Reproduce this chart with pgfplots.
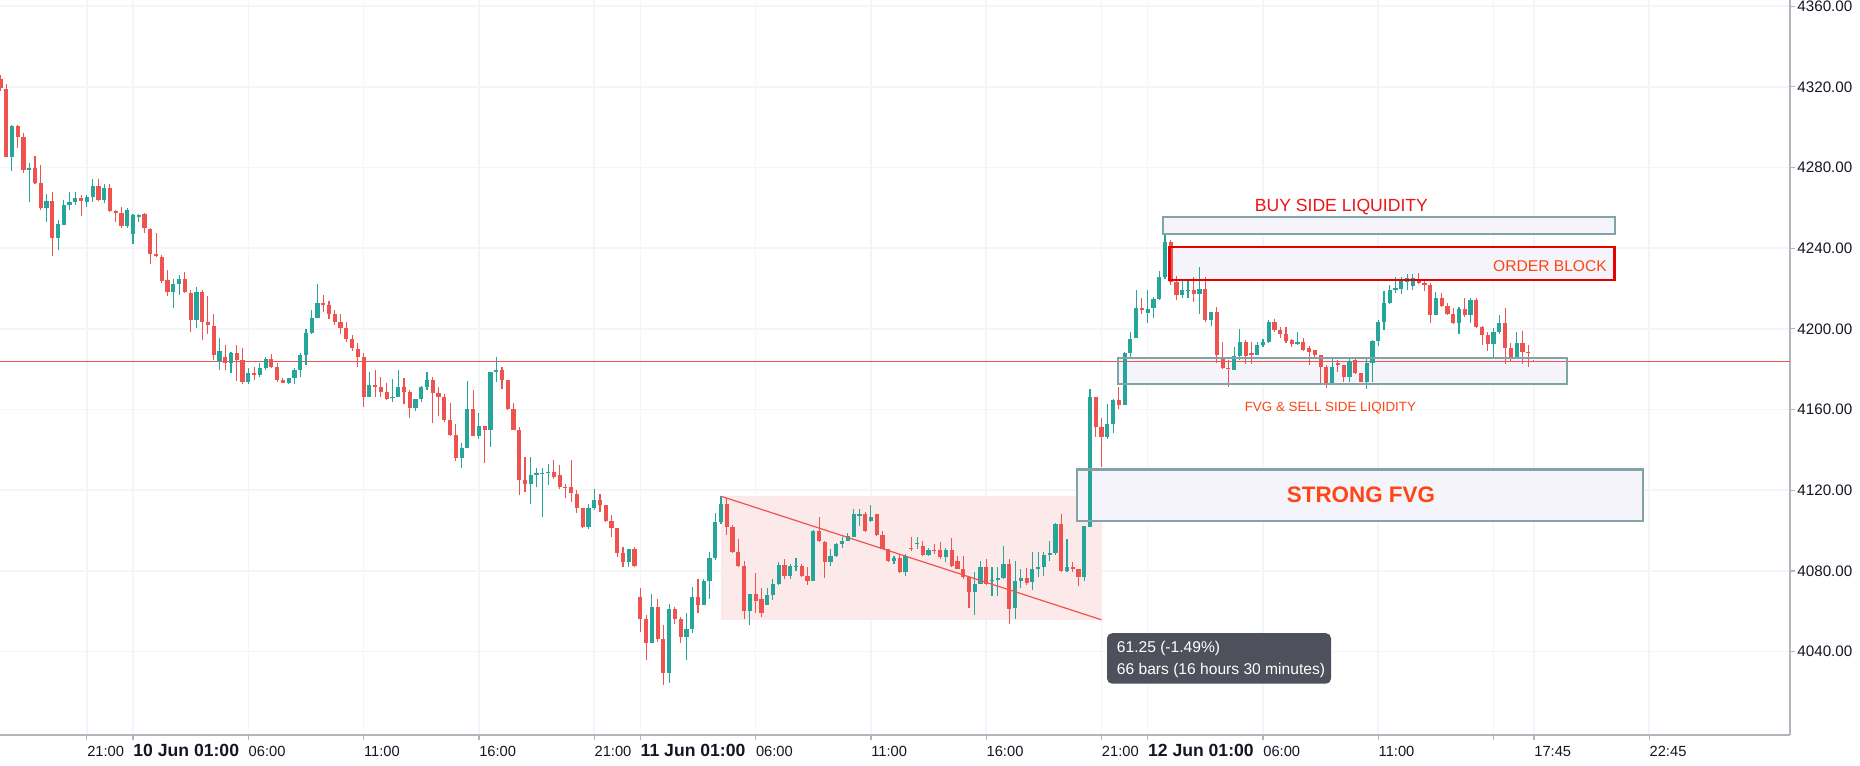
\documentclass[border=0pt]{standalone}
\usepackage{fontspec}
\setmainfont{Liberation Sans}
\usepackage{pgfplots}
\pgfplotsset{compat=1.18}
\usepackage{pgfplotstable}

\definecolor{upc}{RGB}{38,166,154}
\definecolor{dnc}{RGB}{239,83,80}
\definecolor{gridc}{RGB}{244,245,249}
\definecolor{axc}{RGB}{178,181,190}
\definecolor{txtc}{RGB}{19,23,34}
\definecolor{boxfill}{RGB}{244,244,250}
\definecolor{boxline}{RGB}{130,163,168}
\definecolor{pinkc}{RGB}{252,233,233}
\definecolor{obred}{RGB}{230,0,0}
\definecolor{buyred}{RGB}{235,20,20}
\definecolor{orred}{RGB}{255,69,20}
\definecolor{measc}{RGB}{78,81,92}

\pgfplotstableread{
i o h l c
-21 4285.3 4301.0 4278.3 4300.7
-18 4278.7 4282.0 4263.0 4279.8
-15 4260.0 4266.8 4253.0 4263.5
-13 4245.1 4253.9 4239.0 4252.2
-12 4251.7 4264.1 4251.4 4261.6
-11 4261.3 4268.0 4258.8 4263.0
-10 4263.0 4268.0 4261.3 4265.0
-8 4263.0 4266.6 4260.2 4265.5
-7 4265.5 4274.2 4263.0 4270.9
-5 4264.1 4271.7 4262.5 4269.8
-1 4251.1 4259.7 4250.1 4258.8
0 4246.9 4256.9 4242.0 4256.4
1 4255.5 4256.9 4253.0 4256.4
7 4218.3 4224.5 4210.4 4222.1
8 4222.1 4226.6 4216.7 4224.9
11 4204.3 4220.8 4200.2 4218.3
15 4184.0 4195.4 4179.8 4188.8
17 4183.0 4188.5 4178.1 4188.0
20 4173.8 4180.4 4172.9 4177.9
22 4177.1 4182.9 4176.2 4180.4
23 4180.4 4186.2 4179.5 4185.0
27 4173.4 4175.7 4172.9 4175.4
28 4175.4 4180.4 4172.9 4179.6
29 4179.6 4187.8 4176.2 4187.0
30 4187.0 4199.7 4182.0 4198.1
31 4198.1 4209.3 4197.7 4205.2
32 4205.5 4222.0 4205.2 4212.9
41 4166.3 4178.7 4166.3 4172.1
45 4165.5 4174.9 4163.8 4166.3
46 4166.3 4179.6 4166.3 4171.3
49 4160.9 4165.0 4159.4 4165.0
50 4165.0 4171.8 4163.8 4171.3
51 4171.3 4178.7 4169.6 4174.6
57 4136.1 4143.5 4131.2 4141.1
58 4141.1 4174.0 4141.1 4160.5
60 4146.8 4158.3 4145.2 4151.8
62 4150.0 4178.7 4141.5 4178.7
63 4178.7 4186.1 4173.7 4179.5
69 4123.3 4136.6 4113.4 4127.5
70 4127.5 4131.1 4121.7 4128.6
71 4128.0 4131.1 4106.8 4128.6
72 4128.3 4132.8 4122.5 4129.1
79 4101.9 4113.0 4100.7 4111.0
80 4111.0 4120.4 4110.1 4115.4
86 4084.5 4091.1 4082.0 4091.1
90 4044.3 4068.8 4044.3 4062.2
93 4029.5 4063.8 4024.5 4060.9
96 4047.0 4058.9 4035.7 4051.4
97 4051.4 4072.1 4049.3 4067.2
99 4063.0 4076.2 4063.0 4075.1
100 4075.1 4089.5 4066.3 4086.2
101 4086.2 4108.8 4085.4 4104.3
102 4104.3 4117.0 4103.5 4113.4
107 4060.0 4068.7 4053.1 4068.7
110 4063.3 4071.5 4063.0 4067.9
111 4067.9 4076.1 4065.4 4073.6
112 4073.6 4084.6 4072.8 4083.1
114 4077.4 4083.4 4076.1 4082.6
115 4082.1 4086.4 4080.2 4082.6
118 4075.2 4100.3 4074.8 4099.8
121 4084.6 4090.8 4082.3 4087.2
122 4087.2 4093.8 4086.7 4093.3
123 4093.3 4096.6 4091.6 4094.9
124 4094.9 4098.7 4094.9 4097.4
125 4097.0 4110.5 4097.0 4108.0
126 4107.4 4110.5 4102.3 4108.0
128 4104.8 4112.5 4104.3 4106.7
132 4085.1 4087.5 4083.4 4086.2
134 4079.3 4088.4 4077.7 4087.5
136 4093.3 4096.6 4091.1 4093.8
138 4087.9 4091.6 4087.5 4090.5
141 4086.7 4091.6 4084.3 4090.5
146 4069.5 4079.3 4058.0 4073.6
147 4073.6 4085.1 4073.6 4081.8
149 4075.2 4081.8 4067.5 4075.7
150 4075.7 4081.8 4067.5 4076.4
151 4076.4 4092.5 4076.1 4083.4
153 4061.6 4085.1 4056.4 4075.2
154 4075.2 4080.7 4071.5 4076.4
156 4074.4 4089.2 4070.3 4080.7
157 4080.7 4089.2 4076.9 4081.8
158 4081.8 4089.2 4077.7 4087.9
159 4087.9 4094.9 4085.1 4088.9
160 4088.9 4103.9 4087.9 4103.1
162 4080.2 4095.7 4079.3 4081.8
165 4076.9 4102.3 4074.8 4102.3
166 4101.9 4170.0 4101.9 4166.3
169 4146.5 4162.7 4145.2 4152.8
170 4152.8 4165.0 4148.5 4164.7
172 4162.2 4188.6 4162.2 4187.8
173 4187.8 4198.5 4186.1 4195.2
174 4195.6 4219.5 4195.6 4210.1
176 4208.0 4219.5 4203.0 4209.6
177 4210.1 4215.9 4205.2 4214.7
178 4214.7 4228.6 4214.2 4225.8
179 4225.8 4246.5 4224.6 4243.2
182 4216.7 4224.2 4215.1 4219.5
183 4219.0 4224.2 4215.1 4219.5
185 4217.2 4230.8 4207.6 4220.0
187 4204.3 4208.5 4201.3 4208.5
191 4179.6 4191.1 4179.6 4186.5
192 4186.5 4199.7 4184.5 4193.6
195 4187.0 4193.6 4187.0 4191.9
196 4192.1 4195.2 4191.1 4193.6
197 4193.6 4204.3 4193.1 4203.5
202 4192.4 4198.5 4191.9 4193.6
208 4173.3 4185.0 4172.9 4180.9
211 4176.2 4185.3 4173.8 4184.2
214 4173.8 4185.3 4170.4 4183.2
215 4183.2 4194.7 4173.8 4194.1
216 4194.1 4204.3 4191.4 4203.5
217 4203.5 4218.9 4199.4 4212.9
218 4212.9 4221.7 4212.3 4219.5
219 4219.5 4225.8 4218.0 4220.5
220 4219.7 4225.5 4217.5 4223.7
221 4223.3 4227.1 4219.5 4225.0
222 4221.2 4227.1 4219.2 4225.0
226 4206.8 4218.4 4206.8 4215.1
230 4202.7 4210.6 4197.7 4209.6
232 4206.8 4215.1 4203.0 4214.2
236 4192.4 4200.2 4186.1 4198.5
237 4198.5 4206.8 4197.7 4202.7
240 4185.8 4198.5 4185.3 4192.8
}\upT

\pgfplotstableread{
i o h l c
-23 4324.0 4326.0 4318.0 4319.5
-22 4318.7 4321.3 4285.0 4285.3
-20 4300.7 4301.0 4289.8 4295.2
-19 4295.2 4296.9 4277.4 4278.7
-17 4279.8 4285.8 4272.0 4272.4
-16 4272.4 4281.0 4258.9 4260.0
-14 4263.5 4268.0 4236.2 4245.1
-9 4265.0 4266.6 4256.0 4263.3
-6 4270.9 4274.2 4263.5 4264.1
-4 4269.8 4271.7 4258.0 4258.5
-3 4258.5 4258.8 4253.0 4257.5
-2 4257.5 4260.5 4250.1 4251.1
2 4256.9 4257.2 4247.6 4249.8
3 4249.4 4249.8 4232.1 4237.0
4 4237.0 4247.3 4235.7 4235.9
5 4235.7 4236.4 4222.8 4223.8
6 4224.1 4229.4 4216.2 4218.3
9 4224.9 4228.3 4217.9 4218.2
10 4217.9 4219.2 4198.5 4204.3
12 4218.3 4219.2 4194.4 4203.5
13 4203.5 4216.4 4197.4 4201.8
14 4201.5 4207.3 4184.7 4187.2
16 4186.0 4192.1 4179.8 4183.0
18 4188.0 4192.0 4174.0 4184.5
19 4184.5 4190.3 4172.9 4173.8
21 4177.9 4181.2 4174.6 4177.1
24 4185.0 4187.3 4180.4 4181.2
25 4181.2 4183.2 4173.8 4174.6
26 4174.6 4175.7 4173.2 4173.4
33 4212.9 4216.7 4208.5 4211.6
34 4211.6 4213.8 4204.8 4207.3
35 4207.3 4209.3 4201.9 4203.5
36 4203.5 4207.6 4197.7 4200.5
37 4200.2 4203.5 4193.6 4194.8
38 4194.8 4197.2 4189.1 4190.3
39 4190.0 4192.8 4181.2 4186.2
40 4186.2 4187.8 4161.4 4166.3
42 4172.1 4179.6 4166.3 4171.0
43 4171.0 4176.2 4166.3 4168.8
44 4168.8 4173.3 4164.7 4165.0
47 4171.3 4175.4 4162.7 4168.8
48 4168.8 4169.6 4155.6 4160.9
52 4174.6 4176.2 4153.4 4168.3
53 4168.3 4171.3 4156.7 4166.3
54 4166.3 4167.6 4153.9 4154.8
55 4154.8 4163.0 4146.8 4147.6
56 4147.6 4152.6 4134.5 4136.1
59 4160.5 4169.9 4146.8 4146.9
61 4151.8 4151.8 4133.3 4150.0
64 4179.5 4181.2 4170.0 4174.6
65 4174.6 4174.6 4159.7 4160.5
66 4160.5 4163.0 4149.8 4149.9
67 4149.8 4151.4 4117.6 4125.0
68 4125.0 4136.6 4119.2 4123.3
73 4129.1 4134.9 4125.5 4126.6
74 4127.5 4132.4 4120.4 4121.7
75 4121.7 4123.0 4115.9 4121.2
76 4121.7 4134.9 4114.3 4118.4
77 4118.0 4120.0 4108.8 4111.0
78 4111.0 4111.0 4101.5 4101.9
81 4115.4 4118.0 4109.3 4112.6
82 4112.6 4112.6 4104.3 4104.8
83 4104.8 4107.6 4096.6 4101.5
84 4101.5 4101.5 4087.0 4089.0
85 4089.0 4091.9 4081.7 4084.5
87 4091.1 4091.9 4081.7 4082.4
88 4067.2 4071.3 4049.8 4056.4
89 4056.4 4058.1 4035.7 4044.3
91 4062.2 4066.3 4044.8 4046.0
92 4046.0 4053.1 4023.4 4029.5
94 4060.9 4062.2 4053.9 4056.4
95 4056.4 4057.2 4044.3 4047.0
98 4067.2 4076.2 4059.2 4063.0
103 4113.4 4115.9 4097.7 4101.9
104 4101.9 4102.7 4089.0 4089.5
105 4089.5 4095.6 4081.7 4082.6
106 4082.6 4085.1 4056.1 4060.0
108 4068.7 4078.9 4058.9 4065.1
109 4066.2 4071.5 4057.2 4058.9
113 4083.1 4085.9 4076.1 4077.4
116 4082.6 4083.4 4076.9 4077.7
117 4077.7 4081.8 4072.8 4075.2
119 4099.8 4106.7 4094.1 4094.6
120 4094.1 4094.9 4076.4 4084.6
127 4108.0 4109.2 4099.3 4099.8
129 4108.0 4108.0 4097.4 4097.7
130 4097.7 4099.8 4090.8 4091.0
131 4090.8 4090.8 4084.6 4085.1
133 4086.2 4088.4 4079.0 4079.3
135 4091.6 4096.6 4090.0 4090.8
137 4092.5 4094.9 4087.5 4087.9
139 4090.5 4093.3 4088.4 4090.0
140 4090.5 4094.1 4085.9 4086.7
142 4090.5 4096.1 4081.8 4082.6
143 4085.1 4087.5 4080.7 4081.0
144 4081.0 4087.5 4076.1 4076.9
145 4076.9 4076.9 4061.6 4069.5
148 4081.8 4085.9 4072.8 4073.6
152 4083.4 4085.9 4053.5 4061.3
155 4076.4 4081.3 4072.8 4074.1
161 4103.1 4108.0 4079.3 4080.2
163 4081.8 4084.6 4079.3 4081.0
164 4080.7 4080.7 4072.5 4076.9
167 4166.3 4166.3 4146.5 4151.4
168 4151.4 4155.6 4131.6 4146.5
171 4164.7 4171.3 4160.5 4162.2
175 4210.1 4215.1 4207.6 4209.3
180 4243.2 4244.0 4221.7 4223.3
181 4223.3 4226.1 4214.2 4216.7
184 4219.5 4225.8 4213.4 4217.2
186 4220.0 4225.8 4203.5 4204.3
188 4208.5 4211.0 4183.2 4187.0
189 4186.1 4193.6 4179.9 4180.4
190 4180.4 4184.5 4171.3 4179.9
193 4193.6 4194.7 4182.8 4186.5
194 4187.8 4193.6 4182.8 4187.0
198 4203.5 4204.7 4198.5 4199.4
199 4199.4 4201.0 4195.7 4197.7
200 4197.7 4201.0 4193.1 4194.1
201 4194.4 4195.2 4190.8 4192.4
203 4193.6 4195.7 4189.1 4189.4
204 4190.3 4191.4 4182.0 4188.6
205 4189.4 4189.4 4185.8 4187.0
206 4187.0 4187.0 4173.3 4180.9
207 4180.9 4182.0 4170.9 4173.3
209 4183.2 4184.5 4178.7 4182.0
210 4182.0 4182.0 4173.8 4176.2
212 4184.5 4185.3 4177.5 4178.2
213 4178.2 4178.2 4173.8 4173.9
223 4224.5 4227.5 4222.0 4222.5
224 4222.5 4224.5 4218.9 4221.7
225 4221.7 4222.5 4203.0 4206.8
227 4215.1 4217.9 4210.6 4211.3
228 4211.3 4212.9 4206.8 4207.3
229 4207.3 4210.1 4202.3 4202.7
231 4209.6 4215.1 4206.0 4206.8
233 4214.2 4215.1 4200.2 4201.0
234 4201.0 4201.4 4191.9 4196.9
235 4196.9 4198.5 4189.1 4192.4
238 4203.0 4210.1 4182.8 4190.3
239 4190.3 4193.1 4183.7 4185.8
241 4192.8 4199.0 4182.8 4188.6
242 4188.6 4191.9 4181.2 4188.1
243 4184.2 4184.4 4183.4 4183.7
}\dnT

\begin{document}
\begin{tikzpicture}
\begin{axis}[
  name=ax,
  scale only axis,
  width=895pt, height=367.5pt,
  xmin=-23.07, xmax=287.42,
  ymin=3998.6, ymax=4363.0,
  axis x line=bottom, axis y line=right,
  axis line style={-, draw=axc, line width=0.7pt},
  tick align=outside,
  major tick length=2.5pt,
  tick style={draw=axc, line width=0.6pt},
  clip mode=individual,
  grid=major,
  major grid style={draw=gridc, line width=0.8pt},
  xtick={-8,0,20,40,60,80,88,108,128,148,168,176,196,216,236,243,263},
  xticklabels={21:00,{\fontsize{8.8}{10}\selectfont\bfseries 10 Jun 01:00},06:00,11:00,16:00,21:00,{\fontsize{8.8}{10}\selectfont\bfseries 11 Jun 01:00},06:00,11:00,16:00,21:00,{\fontsize{8.8}{10}\selectfont\bfseries 12 Jun 01:00},06:00,11:00,{},17:45,22:45},
  xticklabel style={font=\fontsize{7.35}{9}\selectfont, text=txtc, anchor=base west, inner sep=0pt, yshift=-8pt},
  ytick={4040,4080,4120,4160,4200,4240,4280,4320,4360},
  yticklabels={4040.00,4080.00,4120.00,4160.00,4200.00,4240.00,4280.00,4320.00,4360.00},
  yticklabel style={font=\fontsize{7.6}{9}\selectfont, text=txtc, anchor=west, inner sep=0pt, xshift=1pt},
]
% background zones
\fill[pinkc] (axis cs:102,4117.0) rectangle (axis cs:168,4055.75);
\fill[boxfill] (axis cs:163.7,4130.3) rectangle (axis cs:261.9,4104.8);
\fill[boxfill] (axis cs:170.8,4185.6) rectangle (axis cs:248.8,4172.6);
\fill[boxfill] (axis cs:178.6,4255.5) rectangle (axis cs:257.0,4247.0);
\fill[boxfill] (axis cs:179.8,4240.7) rectangle (axis cs:257.0,4224.2);

% current price line
\draw[dnc, line width=0.6pt] (axis cs:-23.07,4183.7) -- (axis cs:287.42,4183.7);

% candles: wicks and bodies
\addplot[forget plot, draw=none, mark=none,
  error bars/.cd, y dir=plus, y explicit, error mark=none,
  error bar style={draw=upc, line width=0.55pt}]
  table[x=i, y=l, y error plus expr=\thisrow{h}-\thisrow{l}] {\upT};
\addplot[forget plot, draw=none, mark=none,
  error bars/.cd, y dir=plus, y explicit, error mark=none,
  error bar style={draw=upc, line width=2.1pt}]
  table[x=i, y=o, y error plus expr=\thisrow{c}-\thisrow{o}] {\upT};
\addplot[forget plot, draw=none, mark=none,
  error bars/.cd, y dir=plus, y explicit, error mark=none,
  error bar style={draw=dnc, line width=0.55pt}]
  table[x=i, y=l, y error plus expr=\thisrow{h}-\thisrow{l}] {\dnT};
\addplot[forget plot, draw=none, mark=none,
  error bars/.cd, y dir=plus, y explicit, error mark=none,
  error bar style={draw=dnc, line width=2.1pt}]
  table[x=i, y=c, y error plus expr=\thisrow{o}-\thisrow{c}] {\dnT};

% box borders and trend line
\draw[dnc, line width=0.6pt] (axis cs:102,4117.0) -- (axis cs:168,4055.75);
\draw[boxline, line width=1.1pt] (axis cs:163.7,4130.3) rectangle (axis cs:261.9,4104.8);
\draw[boxline, line width=1.1pt] (axis cs:170.8,4185.6) rectangle (axis cs:248.8,4172.6);
\draw[boxline, line width=1.1pt] (axis cs:178.6,4255.5) rectangle (axis cs:257.0,4247.0);
\draw[obred, line width=1.2pt] (axis cs:179.8,4240.7) rectangle (axis cs:257.0,4224.2);

% annotation texts
\node[text=buyred, font=\fontsize{8.8}{10}\selectfont] at (axis cs:209.6,4260.5) {BUY SIDE LIQUIDITY};
\node[text=orred, font=\fontsize{7.8}{9}\selectfont, anchor=east, inner sep=0pt] at (axis cs:255.7,4231.1) {ORDER BLOCK};
\node[text=orred, font=\fontsize{6.7}{8}\selectfont] at (axis cs:207.7,4160.7) {FVG \& SELL SIDE LIQIDITY};
\node[text=orred, font=\fontsize{11.2}{13}\selectfont\bfseries] at (axis cs:213,4117.5) {STRONG FVG};

% measurement tooltip
\fill[measc, rounded corners=2.5pt] (axis cs:168.95,4049.1) rectangle (axis cs:207.8,4024.1);
\node[text=white, anchor=west, inner sep=0pt, font=\fontsize{7.8}{9}\selectfont] at (axis cs:170.6,4041.7) {61.25 (-1.49\%)};
\node[text=white, anchor=west, inner sep=0pt, font=\fontsize{7.8}{9}\selectfont] at (axis cs:170.6,4030.8) {66 bars (16 hours 30 minutes)};

% last price label on the price scale
\fill[dnc] (axis cs:287.42,4183.7) ++(0,-4.6pt) rectangle ++(36pt,9.2pt);
\node[text=white, anchor=west, inner sep=0pt, font=\fontsize{7.6}{9}\selectfont] at ([xshift=3.5pt]axis cs:287.42,4183.7) {4183.70};
\end{axis}
\pgfresetboundingbox
\path[use as bounding box] ([yshift=-15pt]ax.south west) rectangle ([xshift=35pt]ax.north east);
\end{tikzpicture}
\end{document}
